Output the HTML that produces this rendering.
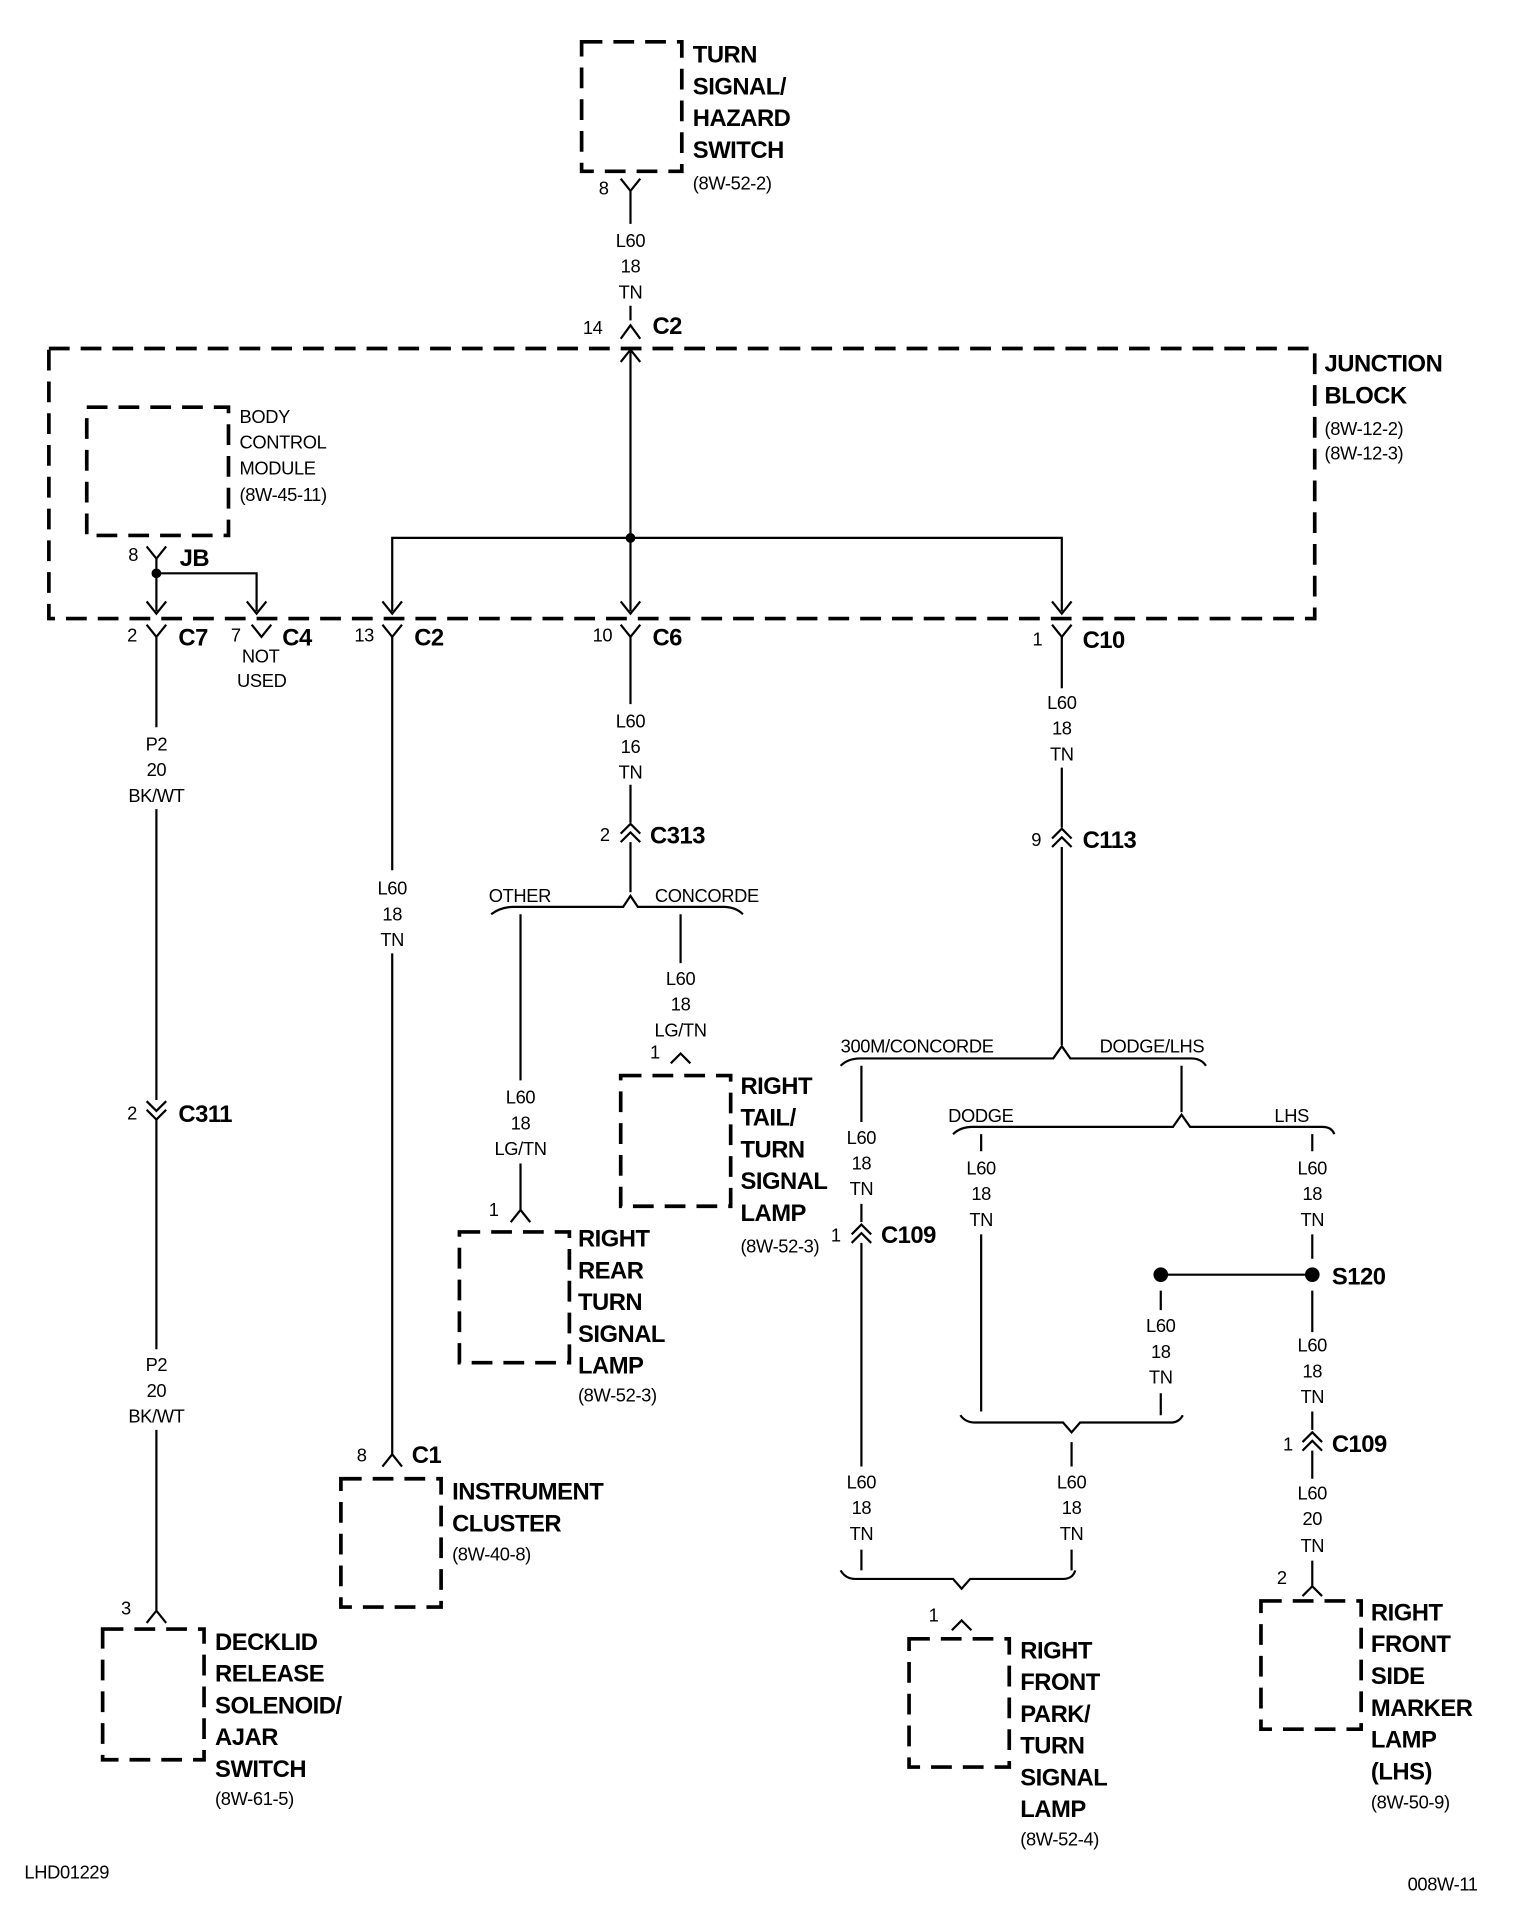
<!DOCTYPE html>
<html><head><meta charset="utf-8"><style>
html,body{margin:0;padding:0;background:#fff;}
svg{display:block}
text{font-family:"Liberation Sans Narrow","Liberation Sans",sans-serif;fill:#000}
.b{font-weight:bold;font-size:19.5px;letter-spacing:-0.4px}
.s{font-size:15px;letter-spacing:-0.3px}
.c{text-anchor:middle}
.d{fill:none;stroke:#000;stroke-width:3;stroke-dasharray:17 9}
.w{fill:none;stroke:#000;stroke-width:1.8}
</style></head><body>
<svg width="1520" height="1914" viewBox="0 0 1244 1566" xmlns="http://www.w3.org/2000/svg">
<rect class="d" x="476" y="34" width="82" height="106"/>
<rect class="d" x="40" y="285" width="1036" height="221"/>
<rect class="d" x="71" y="333" width="116" height="105"/>
<rect class="d" x="84" y="1333" width="83" height="107"/>
<rect class="d" x="279" y="1210" width="82" height="105"/>
<rect class="d" x="376" y="1008" width="90" height="107"/>
<rect class="d" x="508" y="880" width="90" height="107"/>
<rect class="d" x="744" y="1341" width="82" height="105"/>
<rect class="d" x="1032" y="1310" width="82" height="105"/>

<g class="w">
<path d="M508,146 L516,156 L524,146 M516,156 V183 M516,250 V262"/>
<path d="M508,277 L516,266 L524,277"/>
<path d="M516,285 V440 M508,296 L516,286 L524,296"/>
<path d="M321,500 V440 H869 V500 M516,440 V500"/>
<path d="M313,492 L321,502 L329,492 M508,492 L516,502 L524,492 M861,492 L869,502 L877,492"/>
<path d="M120,447 L128,457 L136,447 M128,457 V500 M128,469 H210 V500"/>
<path d="M120,492 L128,502 L136,492 M202,492 L210,502 L218,492"/>
<path d="M120,511 L128,521 L136,511 M206,511 L214,521 L222,511 M313,511 L321,521 L329,511 M508,511 L516,521 L524,511 M861,511 L869,521 L877,511"/>
<path d="M128,521 V595 M128,662 V900 M120,901 L128,909 L136,901 M120,908 L128,916 L136,908 M128,916 V1104 M128,1170 V1318 M120,1328 L128,1318 L136,1328"/>
<path d="M321,521 V712 M321,780 V1190 M313,1200 L321,1190 L329,1200"/>
<path d="M516,521 V576 M516,642 V673 M508,682 L516,674 L524,682 M508,689 L516,681 L524,689 M516,689 V730"/>
<path d="M402,748 Q410,742 420,742 H510 L516,733 L522,742 H592 Q602,742 608,748"/>
<path d="M426,748 V884 M426,952 V990 M418,1000 L426,990 L434,1000"/>
<path d="M557,748 V788 M549,870 L557,862 L565,870"/>
<path d="M869,521 V563 M869,628 V677 M861,686 L869,678 L877,686 M861,693 L869,685 L877,693 M869,693 V855"/>
<path d="M688,872 Q694,866 704,866 H862 L869,856 L876,866 H975 Q983,866 987,872"/>
<path d="M705,872 V918 M705,985 V1000 M697,1010 L705,1002 L713,1010 M697,1017 L705,1009 L713,1017 M705,1017 V1200 M705,1268 V1285"/>
<path d="M967,872 V910"/>
<path d="M780,928 Q786,922 796,922 H960 L967,912 L974,922 H1082 Q1090,922 1092,928"/>
<path d="M803,928 V942 M803,1010 V1155"/>
<path d="M1074,928 V942 M1074,1010 V1030 M1074,1056 V1090 M1074,1155 V1170 M1066,1180 L1074,1172 L1082,1180 M1066,1187 L1074,1179 L1082,1187 M1074,1187 V1210 M1074,1277 V1298 M1066,1306 L1074,1298 L1082,1306"/>
<path d="M950,1043 H1074 M950,1056 V1072 M950,1140 V1158"/>
<path d="M786,1158 Q790,1164 798,1164 H870 L877,1172 L884,1164 H958 Q965,1164 968,1158"/>
<path d="M877,1180 V1200 M877,1268 V1285"/>
<path d="M688,1285 Q692,1292 700,1292 H780 L787,1300 L794,1292 H870 Q878,1292 880,1285"/>
<path d="M779,1334 L787,1326 L795,1334"/>
</g>
<circle cx="516" cy="440" r="4"/><circle cx="128" cy="469" r="4"/>
<circle cx="950" cy="1043" r="6"/><circle cx="1074" cy="1043" r="6"/>

<g class="b">
<text x="567" y="51">TURN</text><text x="567" y="77">SIGNAL/</text><text x="567" y="103">HAZARD</text><text x="567" y="129">SWITCH</text>
<text x="534" y="273">C2</text>
<text x="1084" y="304">JUNCTION</text><text x="1084" y="330">BLOCK</text>
<text x="147" y="463">JB</text>
<text x="146" y="528">C7</text><text x="231" y="528">C4</text><text x="339" y="528">C2</text><text x="534" y="528">C6</text><text x="886" y="530">C10</text>
<text x="146" y="918">C311</text><text x="532" y="690">C313</text><text x="886" y="694">C113</text>
<text x="721" y="1017">C109</text><text x="1090" y="1051">S120</text><text x="1090" y="1188">C109</text>
<text x="337" y="1197">C1</text>
<text x="176" y="1350">DECKLID</text><text x="176" y="1376">RELEASE</text><text x="176" y="1402">SOLENOID/</text><text x="176" y="1428">AJAR</text><text x="176" y="1454">SWITCH</text>
<text x="370" y="1227">INSTRUMENT</text><text x="370" y="1253">CLUSTER</text>
<text x="473" y="1020">RIGHT</text><text x="473" y="1046">REAR</text><text x="473" y="1072">TURN</text><text x="473" y="1098">SIGNAL</text><text x="473" y="1124">LAMP</text>
<text x="606" y="895">RIGHT</text><text x="606" y="921">TAIL/</text><text x="606" y="947">TURN</text><text x="606" y="973">SIGNAL</text><text x="606" y="999">LAMP</text>
<text x="835" y="1357">RIGHT</text><text x="835" y="1383">FRONT</text><text x="835" y="1409">PARK/</text><text x="835" y="1435">TURN</text><text x="835" y="1461">SIGNAL</text><text x="835" y="1487">LAMP</text>
<text x="1122" y="1326">RIGHT</text><text x="1122" y="1352">FRONT</text><text x="1122" y="1378">SIDE</text><text x="1122" y="1404">MARKER</text><text x="1122" y="1430">LAMP</text><text x="1122" y="1456">(LHS)</text>
</g>
<g class="s">
<text x="567" y="155">(8W-52-2)</text>
<text x="1084" y="356">(8W-12-2)</text><text x="1084" y="376">(8W-12-3)</text>
<text x="196" y="346">BODY</text><text x="196" y="367">CONTROL</text><text x="196" y="388">MODULE</text><text x="196" y="410">(8W-45-11)</text>
<text x="490" y="159">8</text><text x="477" y="273">14</text><text x="105" y="459">8</text>
<text x="104" y="525">2</text><text x="189" y="525">7</text><text x="290" y="525">13</text><text x="485" y="525">10</text><text x="845" y="528">1</text>
<text x="198" y="542">NOT</text><text x="194" y="562">USED</text>
<text x="104" y="916">2</text><text x="491" y="688">2</text><text x="844" y="692">9</text><text x="680" y="1016">1</text><text x="1050" y="1187">1</text>
<text x="99" y="1321">3</text><text x="292" y="1196">8</text><text x="400" y="995">1</text><text x="532" y="866">1</text><text x="760" y="1327">1</text><text x="1045" y="1296">2</text>
<text x="400" y="738">OTHER</text><text x="536" y="738">CONCORDE</text>
<text x="688" y="861">300M/CONCORDE</text><text x="900" y="861">DODGE/LHS</text>
<text x="776" y="918">DODGE</text><text x="1043" y="918">LHS</text>
<text x="176" y="1477">(8W-61-5)</text><text x="370" y="1277">(8W-40-8)</text><text x="473" y="1147">(8W-52-3)</text><text x="606" y="1025">(8W-52-3)</text><text x="835" y="1510">(8W-52-4)</text><text x="1122" y="1480">(8W-50-9)</text>
<text x="20" y="1537">LHD01229</text><text x="1152" y="1547">008W-11</text>
</g>
<g class="s c">
<text x="516" y="202">L60</text><text x="516" y="223">18</text><text x="516" y="244">TN</text>
<text x="128" y="614">P2</text><text x="128" y="635">20</text><text x="128" y="656">BK/WT</text>
<text x="128" y="1122">P2</text><text x="128" y="1143">20</text><text x="128" y="1164">BK/WT</text>
<text x="321" y="732">L60</text><text x="321" y="753">18</text><text x="321" y="774">TN</text>
<text x="516" y="595">L60</text><text x="516" y="616">16</text><text x="516" y="637">TN</text>
<text x="426" y="903">L60</text><text x="426" y="924">18</text><text x="426" y="945">LG/TN</text>
<text x="557" y="806">L60</text><text x="557" y="827">18</text><text x="557" y="848">LG/TN</text>
<text x="869" y="580">L60</text><text x="869" y="601">18</text><text x="869" y="622">TN</text>
<text x="705" y="936">L60</text><text x="705" y="957">18</text><text x="705" y="978">TN</text>
<text x="803" y="961">L60</text><text x="803" y="982">18</text><text x="803" y="1003">TN</text>
<text x="1074" y="961">L60</text><text x="1074" y="982">18</text><text x="1074" y="1003">TN</text>
<text x="950" y="1090">L60</text><text x="950" y="1111">18</text><text x="950" y="1132">TN</text>
<text x="1074" y="1106">L60</text><text x="1074" y="1127">18</text><text x="1074" y="1148">TN</text>
<text x="1074" y="1227">L60</text><text x="1074" y="1248">20</text><text x="1074" y="1270">TN</text>
<text x="705" y="1218">L60</text><text x="705" y="1239">18</text><text x="705" y="1260">TN</text>
<text x="877" y="1218">L60</text><text x="877" y="1239">18</text><text x="877" y="1260">TN</text>
</g>
</svg>
</body></html>
